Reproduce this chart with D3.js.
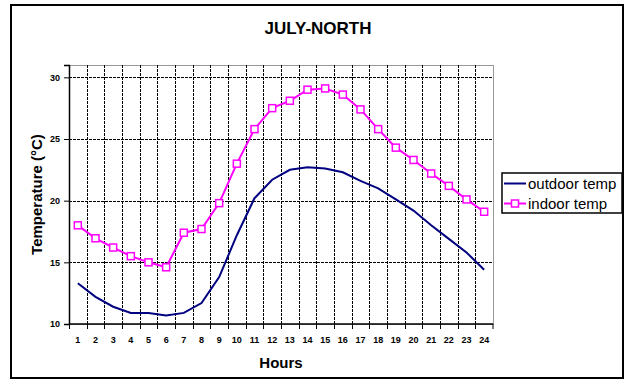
<!DOCTYPE html>
<html>
<head>
<meta charset="utf-8">
<script src="https://cdn.jsdelivr.net/npm/d3@7"></script>
<style>
  body { margin: 0; background: #fff; }
  text { font-family: Arial, "Liberation Sans", sans-serif; }
</style>
</head>
<body>
<div class="chart"></div>
<script>
let hours = d3.range(1, 25);
let outdoorTemp = [13.3, 12.2, 11.4, 10.9, 10.9, 10.7, 10.9, 11.7, 13.8, 17.2, 20.2, 21.7,
  22.5, 22.7, 22.6, 22.3, 21.6, 21.0, 20.1, 19.2, 18.0, 16.9, 15.8, 14.4];
let indoorTemp = [18.0, 16.95, 16.2, 15.5, 15.0, 14.6, 17.4, 17.7, 19.8, 23.0, 25.8, 27.5,
  28.1, 29.0, 29.1, 28.6, 27.4, 25.8, 24.3, 23.3, 22.2, 21.2, 20.1, 19.1];
let yTicks = [10, 15, 20, 25, 30];
let seriesNames = ['outdoor temp', 'indoor temp'];

let config = {
  width: 626,
  height: 381,
  plotLeft: 69,
  plotRight: 493,
  plotTop: 65,
  plotBottom: 324,
  yMin: 10,
  yMax: 31,
  outdoorColor: '#000080',
  indoorColor: '#ff00ff'
};

let svg = d3.select('div.chart').append('svg')
  .attr('width', config.width)
  .attr('height', config.height);

// outer frame
svg.append('rect')
  .attr('x', 11).attr('y', 5)
  .attr('width', 612).attr('height', 373)
  .attr('fill', '#fff')
  .attr('stroke', '#000')
  .attr('stroke-width', 2);

let x = d3.scaleBand()
  .domain(hours)
  .range([config.plotLeft, config.plotRight])
  .padding(0);

let y = d3.scaleLinear()
  .domain([config.yMin, config.yMax])
  .range([config.plotBottom, config.plotTop]);

// plot area border (grey)
svg.append('rect')
  .attr('x', config.plotLeft + 0.5).attr('y', config.plotTop + 0.5)
  .attr('width', config.plotRight - config.plotLeft)
  .attr('height', config.plotBottom - config.plotTop)
  .attr('fill', 'none')
  .attr('stroke', '#999')
  .attr('stroke-width', 1);

// grid
let grid = svg.append('g').attr('class', 'grid');
grid.selectAll('line.h')
  .data(yTicks.filter(d => d > config.yMin))
  .enter().append('line')
  .attr('class', 'h')
  .attr('x1', config.plotLeft).attr('x2', config.plotRight)
  .attr('y1', d => Math.round(y(d)) + 0.5).attr('y2', d => Math.round(y(d)) + 0.5)
  .attr('stroke', '#000')
  .attr('stroke-dasharray', '3,1');

grid.selectAll('line.v')
  .data(hours.slice(1))
  .enter().append('line')
  .attr('class', 'v')
  .attr('x1', d => Math.round(x(d)) + 0.5).attr('x2', d => Math.round(x(d)) + 0.5)
  .attr('y1', config.plotTop).attr('y2', config.plotBottom)
  .attr('stroke', '#000')
  .attr('stroke-dasharray', '3,1');

// y axis
let yAxis = svg.append('g')
  .attr('transform', 'translate(' + config.plotLeft + ',0)')
  .call(d3.axisLeft(y).tickValues(yTicks).tickSize(5).tickPadding(4));
yAxis.select('.domain').attr('stroke', '#000').attr('stroke-width', 1.5);
yAxis.selectAll('text')
  .attr('font-size', '9px')
  .attr('font-weight', 'bold')
  .attr('font-family', 'Arial, "Liberation Sans", sans-serif')
  .attr('fill', '#000');

// x axis: labels at category centres, ticks at category boundaries
let xAxis = svg.append('g')
  .attr('transform', 'translate(0,' + config.plotBottom + ')');
xAxis.append('line')
  .attr('x1', config.plotLeft).attr('x2', config.plotRight)
  .attr('stroke', '#000').attr('stroke-width', 1.5);
xAxis.selectAll('line.tick')
  .data(hours.concat([25]))
  .enter().append('line')
  .attr('class', 'tick')
  .attr('x1', d => d === 25 ? config.plotRight : Math.round(x(d)) + 0.5)
  .attr('x2', d => d === 25 ? config.plotRight : Math.round(x(d)) + 0.5)
  .attr('y1', 0).attr('y2', 5)
  .attr('stroke', '#000');
xAxis.selectAll('text')
  .data(hours)
  .enter().append('text')
  .text(d => d)
  .attr('x', d => x(d) + x.bandwidth() / 2)
  .attr('y', 19)
  .attr('text-anchor', 'middle')
  .attr('font-size', '9px')
  .attr('font-weight', 'bold');

// titles
svg.append('text')
  .text('JULY-NORTH')
  .attr('x', 318).attr('y', 34)
  .attr('text-anchor', 'middle')
  .attr('font-size', '17px')
  .attr('font-weight', 'bold');

svg.append('text')
  .text('Hours')
  .attr('x', (config.plotLeft + config.plotRight) / 2).attr('y', 368)
  .attr('text-anchor', 'middle')
  .attr('font-size', '15px')
  .attr('font-weight', 'bold');

svg.append('text')
  .text('Temperature (°C)')
  .attr('transform', 'translate(42,' + ((config.plotTop + config.plotBottom) / 2) + ') rotate(-90)')
  .attr('text-anchor', 'middle')
  .attr('font-size', '15px')
  .attr('font-weight', 'bold');

// series
let line = d3.line()
  .x((d, i) => x(hours[i]) + x.bandwidth() / 2)
  .y(d => y(d));

svg.append('path')
  .datum(outdoorTemp)
  .attr('d', line)
  .attr('fill', 'none')
  .attr('stroke', config.outdoorColor)
  .attr('stroke-width', 2);

svg.append('path')
  .datum(indoorTemp)
  .attr('d', line)
  .attr('fill', 'none')
  .attr('stroke', config.indoorColor)
  .attr('stroke-width', 2);

svg.selectAll('rect.marker')
  .data(indoorTemp)
  .enter().append('rect')
  .attr('class', 'marker')
  .attr('x', (d, i) => x(hours[i]) + x.bandwidth() / 2 - 3.5)
  .attr('y', d => y(d) - 3.5)
  .attr('width', 7).attr('height', 7)
  .attr('fill', '#fff')
  .attr('stroke', config.indoorColor)
  .attr('stroke-width', 1.5);

// legend
let legend = svg.append('g').attr('class', 'legend');
legend.append('rect')
  .attr('x', 502).attr('y', 173)
  .attr('width', 120).attr('height', 40)
  .attr('fill', '#fff')
  .attr('stroke', '#000')
  .attr('stroke-width', 1.5);

let items = legend.selectAll('g.item')
  .data(seriesNames)
  .enter().append('g')
  .attr('class', 'item')
  .attr('transform', (d, i) => 'translate(504,' + (183.5 + i * 20) + ')');

items.append('line')
  .attr('x1', 0).attr('x2', 22)
  .attr('stroke', (d, i) => i === 0 ? config.outdoorColor : config.indoorColor)
  .attr('stroke-width', 2);

items.filter((d, i) => i === 1).append('rect')
  .attr('x', 7.5).attr('y', -3.5)
  .attr('width', 7).attr('height', 7)
  .attr('fill', '#fff')
  .attr('stroke', config.indoorColor)
  .attr('stroke-width', 1.5);

items.append('text')
  .text(d => d)
  .attr('x', 24).attr('y', 5)
  .attr('font-size', '15px');
</script>
</body>
</html>
